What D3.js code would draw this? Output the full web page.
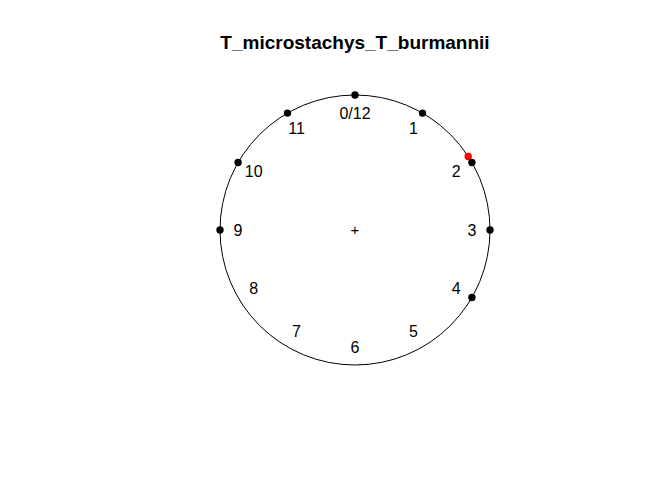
<!DOCTYPE html>
<html><head><meta charset="utf-8">
<script src="https://cdn.jsdelivr.net/npm/d3@7"></script>
<style>body{margin:0;background:#fff}svg{display:block}</style>
</head><body>
<script>
const title = "T_microstachys_T_burmannii";
const hourLabels = ["0/12","1","2","3","4","5","6","7","8","9","10","11"];
const hourTicks = [0,1,2,3,4,5,6,7,8,9,10,11];
const blackPoints = [0,1,2,3,4,9,10,11];
const redPoints = [1.9];

const W = 672, H = 480, cx = 355, cy = 230, R = 135, rLab = 117;
const svg = d3.select("body").append("svg").attr("width", W).attr("height", H);
const ang = d3.scaleLinear().domain([0, 12]).range([0, 2 * Math.PI]);
const px = h => cx + R * Math.sin(ang(h));
const py = h => cy - R * Math.cos(ang(h));

svg.append("text").attr("x", cx).attr("y", 49).attr("text-anchor", "middle")
  .attr("font-family", "Liberation Sans, Arial, sans-serif").attr("font-weight", "bold")
  .attr("font-size", 19).text(title);

svg.append("circle").attr("cx", cx).attr("cy", cy).attr("r", R)
  .attr("fill", "none").attr("stroke", "#000").attr("stroke-width", 1);

svg.append("text").attr("x", cx).attr("y", cy).attr("dy", "0.35em").attr("text-anchor", "middle")
  .attr("font-family", "Liberation Sans, Arial, sans-serif").attr("font-size", 15).text("+");

svg.selectAll("text.lab").data(hourTicks).enter().append("text").attr("class", "lab")
  .attr("x", h => cx + rLab * Math.sin(ang(h)))
  .attr("y", h => cy - rLab * Math.cos(ang(h)))
  .attr("dy", "0.36em").attr("text-anchor", "middle")
  .attr("font-family", "Liberation Sans, Arial, sans-serif").attr("font-size", 16)
  .text((h, i) => hourLabels[i]);

svg.selectAll("circle.red").data(redPoints).enter().append("circle").attr("class", "red")
  .attr("cx", px).attr("cy", py).attr("r", 3.7).attr("fill", "#ff0000");

svg.selectAll("circle.blk").data(blackPoints).enter().append("circle").attr("class", "blk")
  .attr("cx", px).attr("cy", py).attr("r", 3.7).attr("fill", "#000");
</script>
</body></html>
